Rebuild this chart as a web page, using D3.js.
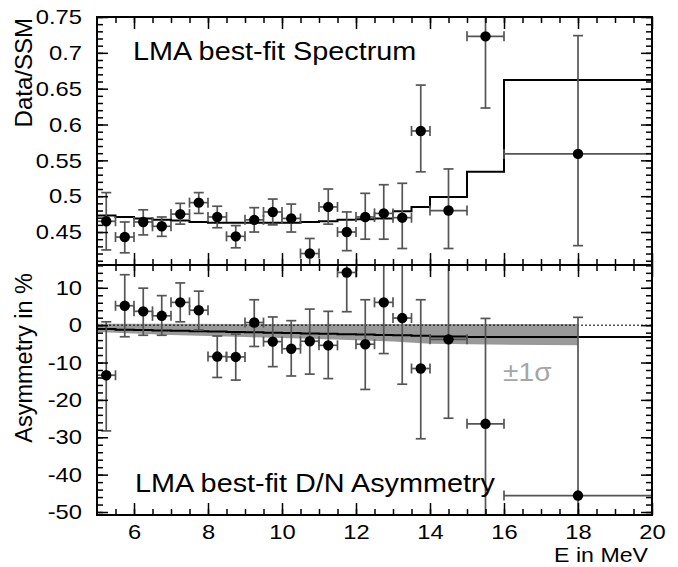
<!DOCTYPE html>
<html>
<head>
<meta charset="utf-8">
<script src="https://cdn.jsdelivr.net/npm/d3@7"></script>
<style>
body { margin: 0; background: #fff; }
text { font-family: "Liberation Sans", Arial, Helvetica, sans-serif; }
</style>
</head>
<body>
<div id="chart"></div>
<script>
// two stacked panels, spectrum ratio on top and day/night asymmetry below
const svgWidth = 678;
const svgHeight = 567;
const frameLeft = 97;
const frameRight = 652;
const topPanel = { top: 17, bottom: 265 };
const botPanel = { top: 265, bottom: 515 };
// the text in the picture is drawn a bit wide, so stretch it sideways
const stretch = 1.13;

// energy bins (MeV)
const binLow  = [5, 5.5, 6, 6.5, 7, 7.5, 8, 8.5, 9, 9.5, 10, 10.5, 11, 11.5, 12, 12.5, 13, 13.5, 14, 15, 16];
const binHigh = [5.5, 6, 6.5, 7, 7.5, 8, 8.5, 9, 9.5, 10, 10.5, 11, 11.5, 12, 12.5, 13, 13.5, 14, 15, 16, 20];

// Data/SSM points with lower and upper ends of the error bars
const ratio     = [0.465, 0.443, 0.464, 0.458, 0.475, 0.491, 0.471, 0.444, 0.467, 0.478, 0.469, 0.420, 0.485, 0.450, 0.471, 0.476, 0.470, 0.591, 0.480, 0.723, 0.559];
const ratioLow  = [0.425, 0.421, 0.446, 0.444, 0.461, 0.476, 0.456, 0.428, 0.450, 0.460, 0.450, 0.399, 0.461, 0.424, 0.440, 0.440, 0.427, 0.534, 0.427, 0.623, 0.431];
const ratioHigh = [0.505, 0.464, 0.481, 0.471, 0.490, 0.505, 0.486, 0.459, 0.484, 0.496, 0.489, 0.441, 0.510, 0.478, 0.504, 0.516, 0.518, 0.655, 0.538, 0.823, 0.724];
// LMA best-fit spectrum, one value per bin
const specFit   = [0.473, 0.471, 0.469, 0.467, 0.466, 0.464, 0.463, 0.463, 0.463, 0.463, 0.463, 0.464, 0.465, 0.467, 0.468, 0.469, 0.479, 0.485, 0.499, 0.534, 0.662];

// D/N asymmetry in %, with error bar ends
const asym     = [-13.4, 5.2, 3.7, 2.5, 6.1, 4.0, -8.4, -8.5, 0.7, -4.4, -6.3, -4.3, -5.4, 14.1, -5.1, 6.1, 1.9, -11.6, -3.8, -26.4, -45.6];
const asymLow  = [-28.3, -3.1, -2.7, -2.7, 0.9, -1.3, -14.0, -14.7, -5.7, -11.1, -13.6, -13.1, -14.3, 3.6, -17.2, -7.6, -15.8, -30.4, -24.9, -54.6, -93.3];
const asymHigh = [0.9, 13.5, 9.9, 7.9, 11.3, 9.1, -2.9, -2.4, 6.8, 2.2, 1.2, 4.3, 3.7, 24.6, 6.8, 19.8, 19.6, 6.8, 17.3, 1.8, 2.1];
// LMA best-fit asymmetry, one value per bin
const asymFit  = [-1.0, -1.2, -1.3, -1.4, -1.5, -1.6, -1.7, -1.8, -1.9, -2.0, -2.1, -2.2, -2.3, -2.4, -2.5, -2.6, -2.7, -2.8, -3.0, -3.2, -3.2];
// +-1 sigma band of the prediction
const bandE    = [5, 7, 9, 11, 13, 14, 18];
const bandHigh = [0.4, 0.4, 0.3, 0.3, 0.3, 0.3, 0.3];
const bandLow  = [-1.8, -2.6, -3.2, -3.7, -4.4, -5.0, -5.4];

// tick labels
const xMajorTicks = [6, 8, 10, 12, 14, 16, 18, 20];
const topYTicks = [0.45, 0.5, 0.55, 0.6, 0.65, 0.7, 0.75];
const botYTicks = [10, 0, -10, -20, -30, -40, -50];

const xMinorTicks = d3.range(5.5, 20, 0.5);
const topYMinor = d3.range(41, 76, 1).map(d => d / 100);
const botYMinor = d3.range(-50, 17, 2);

const x = d3.scaleLinear().domain([5, 20]).range([frameLeft, frameRight]);
const yTop = d3.scaleLinear().domain([0.404, 0.75]).range([topPanel.bottom, topPanel.top]);
const yBot = d3.scaleLinear().domain([-50.8, 16.1]).range([botPanel.bottom, botPanel.top]);

const svg = d3.select("#chart")
    .append("svg")
    .attr("width", svgWidth)
    .attr("height", svgHeight);

// clip the data to each frame, big error bars run off the panel
const defs = svg.append("defs");
defs.append("clipPath").attr("id", "clipTop").append("rect")
    .attr("x", frameLeft).attr("y", topPanel.top)
    .attr("width", frameRight - frameLeft).attr("height", topPanel.bottom - topPanel.top);
defs.append("clipPath").attr("id", "clipBot").append("rect")
    .attr("x", frameLeft).attr("y", botPanel.top)
    .attr("width", frameRight - frameLeft).attr("height", botPanel.bottom - botPanel.top);

const topG = svg.append("g").attr("clip-path", "url(#clipTop)");
const botG = svg.append("g").attr("clip-path", "url(#clipBot)");

// build point rows from the arrays
const specRows = binLow.map((lo, i) => ({ lo: lo, hi: binHigh[i], e: (lo + binHigh[i]) / 2, v: ratio[i], vLo: ratioLow[i], vHi: ratioHigh[i] }));
const asymRows = binLow.map((lo, i) => ({ lo: lo, hi: binHigh[i], e: (lo + binHigh[i]) / 2, v: asym[i], vLo: asymLow[i], vHi: asymHigh[i] }));

// step histogram points, last bin carried to 20
function stepPoints(vals) {
    const pts = binLow.map((lo, i) => [lo, vals[i]]);
    pts.push([binHigh[binHigh.length - 1], vals[vals.length - 1]]);
    return pts;
}

// ---- bottom panel: band, zero line, fit ----
const band = bandE.map((e, i) => [e, bandHigh[i], bandLow[i]]);
botG.append("path")
    .attr("d", d3.area().x(d => x(d[0])).y0(d => yBot(d[2])).y1(d => yBot(d[1]))(band))
    .attr("fill", "#999");

botG.append("path")
    .attr("d", d3.line().x(d => x(d[0])).y(d => yBot(d[1]))([[5, 0], [20, 0]]))
    .attr("stroke", "black")
    .attr("stroke-width", 1)
    .attr("stroke-dasharray", "2,2");

botG.append("path")
    .attr("d", d3.line().x(d => x(d[0])).y(d => yBot(d[1])).curve(d3.curveStepAfter)(stepPoints(asymFit)))
    .attr("fill", "none")
    .attr("stroke", "black")
    .attr("stroke-width", 2);

// ---- top panel: fit step line ----
topG.append("path")
    .attr("d", d3.line().x(d => x(d[0])).y(d => yTop(d[1])).curve(d3.curveStepAfter)(stepPoints(specFit)))
    .attr("fill", "none")
    .attr("stroke", "black")
    .attr("stroke-width", 2);

// error bars with caps on both directions, then the dots
function drawPoints(g, rows, yScale) {
    const cap = 5;
    const eb = g.selectAll(".eb")
        .data(rows)
        .enter()
        .append("g")
        .attr("class", "eb")
        .attr("stroke", "#555")
        .attr("stroke-width", 1.7);
    eb.append("line")
        .attr("x1", d => x(d.e)).attr("x2", d => x(d.e))
        .attr("y1", d => yScale(d.vLo)).attr("y2", d => yScale(d.vHi));
    eb.append("line")
        .attr("x1", d => x(d.e) - cap).attr("x2", d => x(d.e) + cap)
        .attr("y1", d => yScale(d.vHi)).attr("y2", d => yScale(d.vHi));
    eb.append("line")
        .attr("x1", d => x(d.e) - cap).attr("x2", d => x(d.e) + cap)
        .attr("y1", d => yScale(d.vLo)).attr("y2", d => yScale(d.vLo));
    eb.append("line")
        .attr("x1", d => x(d.lo)).attr("x2", d => x(d.hi))
        .attr("y1", d => yScale(d.v)).attr("y2", d => yScale(d.v));
    eb.append("line")
        .attr("x1", d => x(d.lo)).attr("x2", d => x(d.lo))
        .attr("y1", d => yScale(d.v) - cap).attr("y2", d => yScale(d.v) + cap);
    eb.append("line")
        .attr("x1", d => x(d.hi)).attr("x2", d => x(d.hi))
        .attr("y1", d => yScale(d.v) - cap).attr("y2", d => yScale(d.v) + cap);

    g.selectAll(".dot")
        .data(rows)
        .enter()
        .append("circle")
        .attr("class", "dot")
        .attr("cx", d => x(d.e))
        .attr("cy", d => yScale(d.v))
        .attr("r", 5.2)
        .attr("fill", "black");
}
drawPoints(topG, specRows, yTop);
drawPoints(botG, asymRows, yBot);

// ---- axes, ROOT style: ticks point inward on all four sides ----
function styleAxis(g) {
    g.select(".domain").remove();
    g.selectAll(".tick line").attr("stroke-width", 1.5);
    g.attr("font-size", 21).attr("font-family", null);
}

function panelAxes(panel, yScale, yMajor, yMinor, showXLabels) {
    // left
    svg.append("g")
        .attr("transform", `translate(${frameLeft},0)`)
        .call(d3.axisLeft(yScale).tickValues(yMajor).tickSize(-11).tickPadding(15).tickFormat(d => String(d)))
        .call(styleAxis)
        .call(g => g.selectAll("text").attr("x", -15 / stretch).attr("transform", `scale(${stretch},1)`).attr("fill", "black"));
    svg.append("g")
        .attr("transform", `translate(${frameLeft},0)`)
        .call(d3.axisLeft(yScale).tickValues(yMinor).tickSize(-6).tickFormat(""))
        .call(styleAxis);
    // right
    svg.append("g")
        .attr("transform", `translate(${frameRight},0)`)
        .call(d3.axisRight(yScale).tickValues(yMajor).tickSize(-11).tickFormat(""))
        .call(styleAxis);
    svg.append("g")
        .attr("transform", `translate(${frameRight},0)`)
        .call(d3.axisRight(yScale).tickValues(yMinor).tickSize(-6).tickFormat(""))
        .call(styleAxis);
    // top
    svg.append("g")
        .attr("transform", `translate(0,${panel.top})`)
        .call(d3.axisTop(x).tickValues(xMajorTicks).tickSize(-12).tickFormat(""))
        .call(styleAxis);
    svg.append("g")
        .attr("transform", `translate(0,${panel.top})`)
        .call(d3.axisTop(x).tickValues(xMinorTicks).tickSize(-6).tickFormat(""))
        .call(styleAxis);
    // bottom
    svg.append("g")
        .attr("transform", `translate(0,${panel.bottom})`)
        .call(d3.axisBottom(x).tickValues(xMajorTicks).tickSize(-12).tickPadding(9)
            .tickFormat(showXLabels ? (d => String(d)) : ""))
        .call(styleAxis)
        .call(g => g.selectAll("text").attr("transform", `scale(${stretch},1)`).attr("fill", "black"));
    svg.append("g")
        .attr("transform", `translate(0,${panel.bottom})`)
        .call(d3.axisBottom(x).tickValues(xMinorTicks).tickSize(-6).tickFormat(""))
        .call(styleAxis);

    // frame
    svg.append("rect")
        .attr("x", frameLeft)
        .attr("y", panel.top)
        .attr("width", frameRight - frameLeft)
        .attr("height", panel.bottom - panel.top)
        .attr("fill", "none")
        .attr("stroke", "black")
        .attr("stroke-width", 2);
}
panelAxes(topPanel, yTop, topYTicks, topYMinor, false);
panelAxes(botPanel, yBot, botYTicks, botYMinor, true);

// ---- labels ----
function wideText(txt, px, py, size, anchor, color) {
    svg.append("text")
        .attr("transform", `translate(${px},${py}) scale(${stretch},1)`)
        .attr("font-size", size)
        .attr("text-anchor", anchor)
        .attr("fill", color)
        .text(txt);
}
wideText("LMA best-fit Spectrum", 133, 60, 25.5, "start", "black");
wideText("LMA best-fit D/N Asymmetry", 135, 492, 25.5, "start", "black");
wideText("\u00b11\u03c3", 503, 381, 25, "start", "#a6a6a6");
wideText("E in MeV", 648, 562, 20.5, "end", "black");

svg.append("text")
    .attr("transform", "translate(32,18) rotate(-90)")
    .attr("font-size", 24)
    .attr("text-anchor", "end")
    .text("Data/SSM");
svg.append("text")
    .attr("transform", "translate(32,273) rotate(-90)")
    .attr("font-size", 23.5)
    .attr("text-anchor", "end")
    .text("Asymmetry in %");
</script>
</body>
</html>
